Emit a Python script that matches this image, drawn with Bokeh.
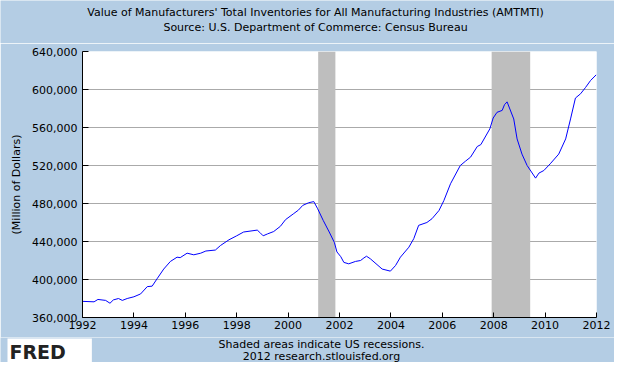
from bokeh.plotting import figure
from bokeh.models import Label, NumeralTickFormatter, FixedTicker, Range1d
from bokeh.layouts import column
from bokeh.embed import file_html
from bokeh.resources import INLINE

# Decimal year and inventory value (Million of Dollars)
years = [1992.0, 1992.45, 1992.6, 1992.9, 1993.07, 1993.2, 1993.4, 1993.55, 1993.74,
         1994.0, 1994.26, 1994.52, 1994.71, 1994.9, 1995.16, 1995.42, 1995.68, 1995.8,
         1996.07, 1996.33, 1996.6, 1996.8, 1997.17, 1997.37, 1997.7, 1998.0, 1998.27,
         1998.8, 1998.9, 1999.03, 1999.2, 1999.44, 1999.7, 1999.9, 2000.2, 2000.4,
         2000.57, 2000.8, 2001.0, 2001.15, 2001.37, 2001.6, 2001.8, 2001.9, 2002.05,
         2002.17, 2002.36, 2002.62, 2002.82, 2002.95, 2003.05, 2003.2, 2003.66, 2003.98,
         2004.18, 2004.37, 2004.7, 2004.89, 2005.08, 2005.4, 2005.6, 2005.87, 2006.06,
         2006.32, 2006.7, 2006.9, 2007.1, 2007.36, 2007.5, 2007.85, 2007.98, 2008.13,
         2008.33, 2008.42, 2008.52, 2008.78, 2008.91, 2009.1, 2009.3, 2009.63, 2009.76,
         2009.95, 2010.2, 2010.53, 2010.8, 2010.99, 2011.18, 2011.38, 2011.57, 2011.77,
         2011.99]
values = [377000, 376500, 379000, 378000, 375000, 378500, 380000, 378000, 380000,
          381800, 384800, 392500, 393000, 400700, 411000, 419000, 423500, 423000,
          427700, 426000, 427700, 430000, 431000, 435800, 441800, 446000, 450000,
          452000, 449500, 446000, 448000, 450500, 456000, 463000, 469000, 473000,
          478000, 480800, 482000, 474500, 462000, 450000, 439000, 429000, 424000,
          418000, 416500, 419000, 420000, 422700, 424500, 421800, 411000, 408800,
          414700, 423500, 434000, 443000, 457000, 460000, 464000, 472600, 483000,
          500800, 520000, 524500, 528800, 540000, 542000, 558600, 570000, 576000,
          578000, 584000, 587000, 569000, 548000, 532000, 520000, 506700, 512000,
          514700, 521800, 532000, 548000, 569000, 591000, 595500, 602000, 609500,
          615500]

rec_start = [2001.17, 2007.92]
rec_end = [2001.84, 2009.42]

x_ticks = [1992, 1994, 1996, 1998, 2000, 2002, 2004, 2006, 2008, 2010, 2012]
y_ticks = [360000, 400000, 440000, 480000, 520000, 560000, 600000, 640000]

title1 = "Value of Manufacturers' Total Inventories for All Manufacturing Industries (AMTMTI)"
title2 = "Source: U.S. Department of Commerce: Census Bureau"
foot1 = "Shaded areas indicate US recessions."
foot2 = "2012 research.stlouisfed.org"
ylabel = "(Million of Dollars)"

BG = "#B4CDE4"
FONT = "DejaVu Sans"
W = 614


def band(height):
    f = figure(width=W, height=height, x_range=Range1d(0, W), y_range=Range1d(height, 0),
               output_backend="svg", toolbar_location=None, frame_align=False,
               min_border_left=0, min_border_right=0, min_border_top=0, min_border_bottom=0,
               x_axis_type=None, y_axis_type=None)
    f.xgrid.grid_line_color = None
    f.ygrid.grid_line_color = None
    f.background_fill_color = BG
    f.border_fill_color = BG
    f.outline_line_color = None
    return f


def lab(f, x, y, text, size="11px", style="normal", align="center", font=FONT, bg=None,
        color="black", padding=0):
    f.add_layout(Label(x=x, y=y, text=text, text_font=font, text_font_size=size,
                       text_font_style=style, text_align=align, text_baseline="middle",
                       text_color=color, background_fill_color=bg, padding=padding))


header = band(43)
lab(header, 315, 12, title1)
lab(header, 315, 27, title2)

p = figure(width=W, height=294, x_range=(1992, 2012), y_range=(360000, 640000),
           output_backend="svg", toolbar_location=None, frame_align=False,
           min_border_left=82, min_border_right=18, min_border_top=8, min_border_bottom=20)
p.border_fill_color = BG
p.background_fill_color = "white"
p.outline_line_color = None

p.xgrid.grid_line_color = None
p.ygrid.grid_line_color = "#AAAAAA"
p.ygrid.grid_line_width = 1

for ax in (p.xaxis[0], p.yaxis[0]):
    ax.axis_line_color = "black"
    ax.major_tick_line_color = "black"
    ax.minor_tick_line_color = None
    ax.major_label_text_font = FONT
    ax.major_label_text_font_size = "11px"
    ax.major_label_text_color = "black"
    ax.major_tick_out = 0

p.xaxis.ticker = FixedTicker(ticks=x_ticks)
p.yaxis.ticker = FixedTicker(ticks=y_ticks)
p.yaxis.formatter = NumeralTickFormatter(format="0,0")
p.xaxis.major_tick_in = 5
p.yaxis.major_tick_in = 6
p.xaxis.major_label_standoff = 3
p.yaxis.major_label_standoff = 5
p.yaxis.axis_label = ylabel
p.yaxis.axis_label_text_font = FONT
p.yaxis.axis_label_text_font_size = "11px"
p.yaxis.axis_label_text_font_style = "normal"
p.yaxis.axis_label_text_color = "black"
p.yaxis.axis_label_standoff = 6

p.quad(left=rec_start, right=rec_end, bottom=360000, top=640000,
       fill_color="#BEBEBE", line_color=None)
p.line(years, values, line_color="#0000FF", line_width=1)

footer = band(25)
lab(footer, 321, 6.5, foot1)
lab(footer, 321, 19, foot2)
lab(footer, 7, 14, "FRED", size="19px", style="bold", align="left",
    font="DejaVu Sans", bg="white", color="#222222", padding=(2, 26, 2, 2))

layout = column(header, p, footer, spacing=0)

open("out.html", "w").write(file_html(layout, INLINE))
